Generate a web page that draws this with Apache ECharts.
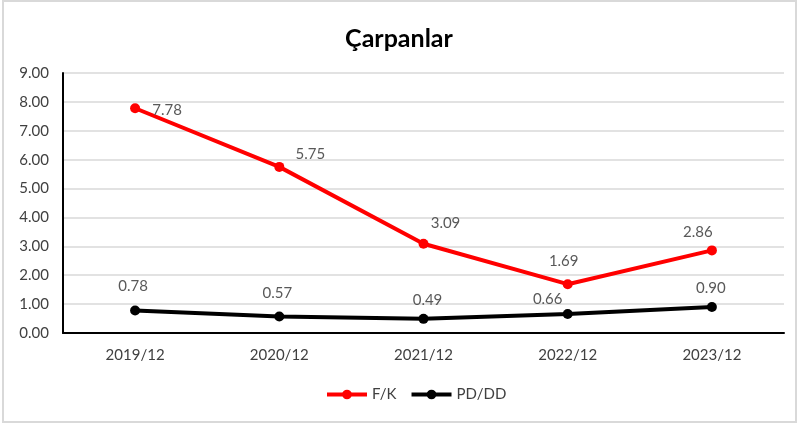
<!DOCTYPE html>
<html>
<head>
<meta charset="utf-8">
<script src="https://cdn.jsdelivr.net/npm/echarts@6/dist/echarts.min.js"></script>
<style>
html,body{margin:0;padding:0;background:#fff;}
#wrap{position:absolute;left:2px;top:0px;width:795px;height:423px;border:2px solid #d9d9d9;box-sizing:border-box;}
#c{position:absolute;left:0;top:0;width:798px;height:424px;}
</style>
</head>
<body>
<div id="wrap"></div>
<div id="c"></div>
<script>
const categories = ['2019/12', '2020/12', '2021/12', '2022/12', '2023/12'];
const fkValues = [7.78, 5.75, 3.09, 1.69, 2.86];
const pdddValues = [0.78, 0.57, 0.49, 0.66, 0.90];
const yTicks = [0, 1, 2, 3, 4, 5, 6, 7, 8, 9];

const FONT = 'Lato, "Liberation Sans", sans-serif';
// label placement (pixel offsets from each point's centre)
const fkOffsets = [[32, 2], [31, -13], [22, -21], [-4, -23], [-14, -18]];
const pdOffsets = [[-2, -24], [-2, -23], [4, -19], [-20, -15], [-1, -19]];

function mkData(vals, offs) {
  return vals.map((v, i) => ({
    value: v,
    label: { offset: offs[i] }
  }));
}

const chart = echarts.init(document.getElementById('c'), null, { renderer: 'canvas' });
chart.setOption({
  animation: false,
  title: {
    text: 'Çarpanlar',
    left: 'center',
    top: 21,
    textStyle: { fontFamily: FONT, fontSize: 25, fontWeight: 'bold', color: '#000' }
  },
  grid: { left: 63, right: 14, top: 73, bottom: 91 },
  legend: {
    bottom: 17,
    left: 320,
    itemWidth: 40,
    itemHeight: 12,
    itemGap: 13,
    lineStyle: { width: 4 },
    textStyle: { fontFamily: FONT, fontSize: 15, color: '#404040' },
    data: ['F/K', 'PD/DD']
  },
  xAxis: {
    type: 'category',
    data: categories,
    boundaryGap: true,
    axisLine: { show: true, lineStyle: { color: '#000', width: 2 } },
    axisTick: { show: false },
    axisLabel: { fontFamily: FONT, fontSize: 15, color: '#404040', margin: 15 }
  },
  yAxis: {
    type: 'value',
    min: yTicks[0],
    max: yTicks[yTicks.length - 1],
    interval: 1,
    axisLine: { show: true, lineStyle: { color: '#000', width: 2 } },
    axisTick: { show: false },
    splitLine: { show: true, lineStyle: { color: '#d9d9d9', width: 1.5 } },
    axisLabel: {
      fontFamily: FONT, fontSize: 15, color: '#404040', margin: 14,
      formatter: v => v.toFixed(2)
    }
  },
  series: [
    {
      name: 'F/K',
      type: 'line',
      data: mkData(fkValues, fkOffsets),
      symbol: 'circle',
      symbolSize: 10,
      lineStyle: { color: '#ff0000', width: 4 },
      itemStyle: { color: '#ff0000' },
      label: {
        show: true, position: 'inside',
        fontFamily: FONT, fontSize: 15, color: '#595959',
        formatter: p => p.value.toFixed(2)
      }
    },
    {
      name: 'PD/DD',
      type: 'line',
      data: mkData(pdddValues, pdOffsets),
      symbol: 'circle',
      symbolSize: 10,
      lineStyle: { color: '#000', width: 4 },
      itemStyle: { color: '#000' },
      label: {
        show: true, position: 'inside',
        fontFamily: FONT, fontSize: 15, color: '#595959',
        formatter: p => p.value.toFixed(2)
      }
    }
  ]
});
</script>
</body>
</html>
